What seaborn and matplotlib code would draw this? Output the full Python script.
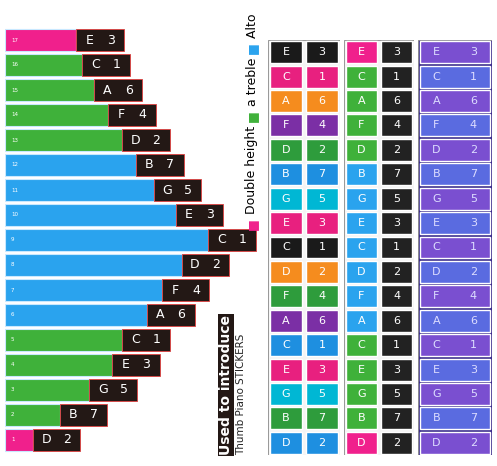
import matplotlib
matplotlib.use("Agg")
import matplotlib.pyplot as plt
import seaborn as sns
import pandas as pd
from matplotlib.patches import Rectangle

keys = list(range(1, 18))
notes = ["D","B","G","E","C","A","F","D","C","E","G","B","D","F","A","C","E"]
nums = ["2","7","5","3","1","6","4","2","1","3","5","7","2","4","6","1","3"]
bar_len = [28, 55, 85, 108, 118, 143, 158, 178, 205, 172, 150, 132, 118, 104, 90, 78, 72]
bar_group = ["Double height"] + ["a treble"]*4 + ["Alto"]*7 + ["a treble"]*4 + ["Double height"]
group_colors = {"Double height": "#f0208c", "a treble": "#3fb13a", "Alto": "#2aa3ee"}
strip1_colors = ["#1a1a1a","#e8207f","#f58c1e","#7b2fa5","#2e9c3c","#1e8fe0","#00b7d4",
                 "#e8207f","#1a1a1a","#f58c1e","#2e9c3c","#7b2fa5","#1e8fe0","#e8207f",
                 "#00b7d4","#2e9c3c","#1e8fe0"]

sns.set_theme(style="white")
W, H = 497, 466
fig = plt.figure(figsize=(W/100, H/100), dpi=100)
fig.patch.set_facecolor("white")

def ax_px(x0, y0, x1, y1):
    return fig.add_axes([x0/W, 1-y1/H, (x1-x0)/W, (y1-y0)/H])

# Left panel
ax = ax_px(5, 25, 265, 455)
df = pd.DataFrame({"key": [str(k) for k in keys], "len": bar_len, "group": bar_group})
order = [str(k) for k in reversed(keys)]
sns.barplot(data=df, y="key", x="len", hue="group", palette=group_colors, order=order,
            orient="h", dodge=False, width=0.9, legend=False, ax=ax, saturation=1,
            edgecolor="#c8e8ff", linewidth=0.8)
box_w = 48
for i, k in enumerate(order):
    idx = int(k) - 1
    x = bar_len[idx]
    ax.barh(i, box_w, left=x, height=0.9, color="#231815", edgecolor="#e04040", linewidth=0.6)
    ax.text(x + box_w*0.28, i, notes[idx], color="white", ha="center", va="center", fontsize=9)
    ax.text(x + box_w*0.72, i, nums[idx], color="white", ha="center", va="center", fontsize=9)
    ax.text(6, i, k, color="white", fontsize=4, va="center")
ax.set_xlim(0, 262)
ax.set_ylim(16.6, -0.6)
ax.axis("off")

y = 230
for txt, col in [("■", "#f0208c"), (" Double height ", "black"), ("■", "#3fb13a"),
                 (" a treble ", "black"), ("■", "#2aa3ee"), (" Alto", "black")]:
    t = fig.text(252/W, 1-y/H, txt, rotation=90, fontsize=9, va="bottom", ha="center", color=col)
    fig.canvas.draw()
    bb = t.get_window_extent()
    y -= bb.height
fig.text(226/W, 1-455/H, "Used to introduce", rotation=90, fontsize=10, weight="bold",
         va="bottom", ha="center", color="white",
         bbox=dict(facecolor="#231815", edgecolor="none", pad=1))
fig.text(241/W, 1-455/H, "Thumb Piano STICKERS", rotation=90, fontsize=7.5, va="bottom", ha="center")

# Right strips
strips = [(268, 340), (344, 414), (418, 492)]
for s, (x0, x1) in enumerate(strips):
    a = ax_px(x0, 40, x1, 455)
    a.set_xlim(0, 2); a.set_ylim(0, 17)
    a.axis("off")
    a.add_patch(Rectangle((0, 0), 2, 17, facecolor="#f4f4f4" if s < 2 else "#3a2c8c", edgecolor="#888", lw=0.6))
    for j in range(17):
        idx = j
        yy = j + 0.05
        if s == 0:
            c = strip1_colors[16 - j]
            a.add_patch(Rectangle((0.05, yy), 0.9, 0.9, facecolor=c))
            a.add_patch(Rectangle((1.05, yy), 0.9, 0.9, facecolor=c))
            tc = "white"
        elif s == 1:
            c = group_colors[bar_group[idx]]
            a.add_patch(Rectangle((0.05, yy), 0.9, 0.9, facecolor=c))
            a.add_patch(Rectangle((1.05, yy), 0.9, 0.9, facecolor="#222"))
            tc = "white"
        else:
            c = "#5a6be0" if j % 2 else "#7a4fd0"
            a.add_patch(Rectangle((0.05, yy), 1.9, 0.9, facecolor=c))
            tc = "#ddddff"
        a.text(0.5, j+0.5, notes[idx], color=tc, ha="center", va="center", fontsize=8)
        a.text(1.5, j+0.5, nums[idx], color=tc, ha="center", va="center", fontsize=8)

fig.savefig("out.png", dpi=100)
